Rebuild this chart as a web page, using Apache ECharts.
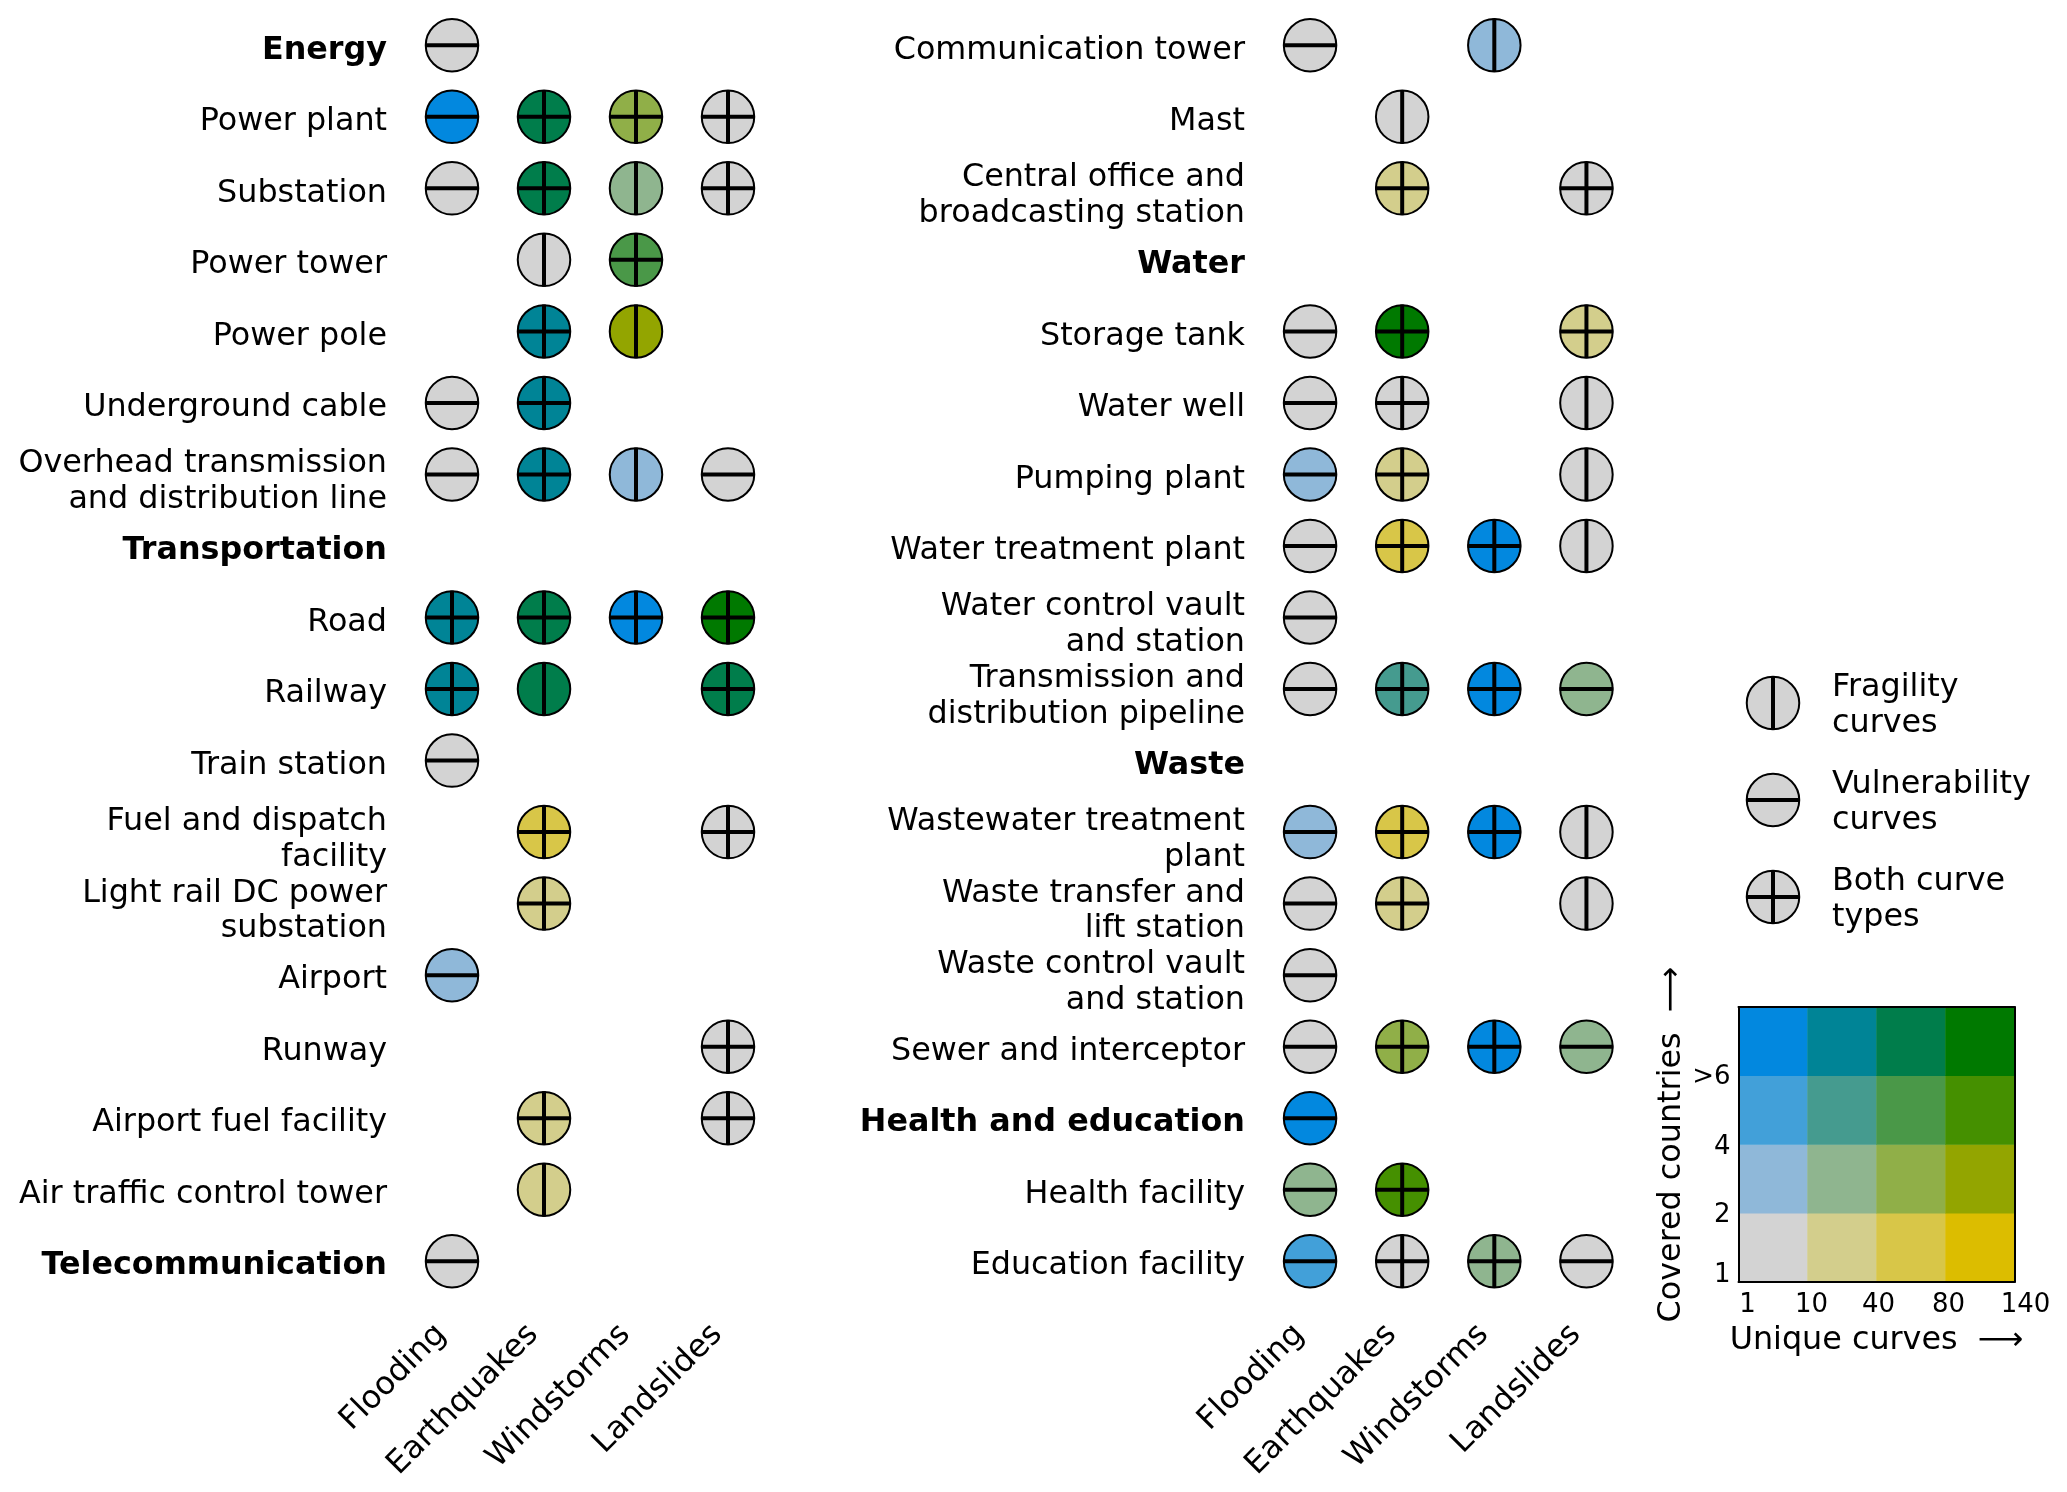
<!DOCTYPE html>
<html><head><meta charset="utf-8">
<style>html,body{margin:0;padding:0;background:#fff}#c{width:2067px;height:1492px}</style>
<script src="https://cdn.jsdelivr.net/npm/echarts@6/dist/echarts.min.js"></script>
</head><body><div id="c"></div>
<script>
const hazards = ['Flooding','Earthquakes','Windstorms','Landslides'];
const leftRows = ['Energy','Power plant','Substation','Power tower','Power pole','Underground cable','Overhead transmission\nand distribution line','Transportation','Road','Railway','Train station','Fuel and dispatch\nfacility','Light rail DC power\nsubstation','Airport','Runway','Airport fuel facility','Air traffic control tower','Telecommunication'];
const rightRows = ['Communication tower','Mast','Central office and\nbroadcasting station','Water','Storage tank','Water well','Pumping plant','Water treatment plant','Water control vault\nand station','Transmission and\ndistribution pipeline','Waste','Wastewater treatment\nplant','Waste transfer and\nlift station','Waste control vault\nand station','Sewer and interceptor','Health and education','Health facility','Education facility'];
const boldRows = ['Energy','Transportation','Telecommunication','Water','Waste','Health and education'];
// [row, hazard, curve type, unique-curves bin, covered-countries bin]
const leftCells = [
 [0,0,'V',0,0],
 [1,0,'V',0,3],[1,1,'B',2,3],[1,2,'B',2,1],[1,3,'B',0,0],
 [2,0,'V',0,0],[2,1,'B',2,3],[2,2,'F',1,1],[2,3,'B',0,0],
 [3,1,'F',0,0],[3,2,'B',2,2],
 [4,1,'B',1,3],[4,2,'F',3,1],
 [5,0,'V',0,0],[5,1,'B',1,3],
 [6,0,'V',0,0],[6,1,'B',1,3],[6,2,'F',0,1],[6,3,'V',0,0],
 [8,0,'B',1,3],[8,1,'B',2,3],[8,2,'B',0,3],[8,3,'B',3,3],
 [9,0,'B',1,3],[9,1,'F',2,3],[9,3,'B',2,3],
 [10,0,'V',0,0],
 [11,1,'B',2,0],[11,3,'B',0,0],
 [12,1,'B',1,0],
 [13,0,'V',0,1],
 [14,3,'B',0,0],
 [15,1,'B',1,0],[15,3,'B',0,0],
 [16,1,'F',1,0],
 [17,0,'V',0,0]
];
const rightCells = [
 [0,0,'V',0,0],[0,2,'F',0,1],
 [1,1,'F',0,0],
 [2,1,'B',1,0],[2,3,'B',0,0],
 [4,0,'V',0,0],[4,1,'B',3,3],[4,3,'B',1,0],
 [5,0,'V',0,0],[5,1,'B',0,0],[5,3,'F',0,0],
 [6,0,'V',0,1],[6,1,'B',1,0],[6,3,'F',0,0],
 [7,0,'V',0,0],[7,1,'B',2,0],[7,2,'B',0,3],[7,3,'F',0,0],
 [8,0,'V',0,0],
 [9,0,'V',0,0],[9,1,'B',1,2],[9,2,'B',0,3],[9,3,'V',1,1],
 [11,0,'V',0,1],[11,1,'B',2,0],[11,2,'B',0,3],[11,3,'F',0,0],
 [12,0,'V',0,0],[12,1,'B',1,0],[12,3,'F',0,0],
 [13,0,'V',0,0],
 [14,0,'V',0,0],[14,1,'B',2,1],[14,2,'B',0,3],[14,3,'V',1,1],
 [15,0,'V',0,3],
 [16,0,'V',1,1],[16,1,'B',3,2],
 [17,0,'V',0,2],[17,1,'B',0,0],[17,2,'B',1,1],[17,3,'V',0,0]
];
const legendRows = ['Fragility\ncurves','Vulnerability\ncurves','Both curve\ntypes'];
const legendTypes = ['F','V','B'];
const curveTicks = ['1','10','40','80','140'];
const countryTicks = ['1','2','4','>6'];
// palette[countries bin][curves bin]
const palette = [
 ['#d3d3d3','#d3ce8c','#d8c648','#dcbd00'],
 ['#8fb8d9','#8fb58f','#90af48','#93a500'],
 ['#42a0d9','#459b8f','#4a9848','#459000'],
 ['#0288df','#008496','#007d4b','#007900']
];

const FS = 31.8, LH = 35.6, D = 52.5, W = 4;
const grids = [], xAxes = [], yAxes = [], series = [];
const twoLines = v => v.split('\n').map(s => '{t|' + s + '}').join('\n');
const rowFmt = v => {
  if (boldRows.includes(v)) return '{b|' + v + '}';
  return v.includes('\n') ? twoLines(v) : v;
};
const rowText = {fontFamily:'DejaVu Sans', fontSize:FS, lineHeight:LH, color:'#000'};

function markers(gridIdx, pts) {
  // pts: [x, y, type, colour]
  const base = {type:'scatter', xAxisIndex:gridIdx, yAxisIndex:gridIdx, silent:true, animation:false};
  series.push(Object.assign({}, base, {
    name:'marker', z:3, symbol:'circle', symbolSize:D,
    data: pts.map(p => ({value:[p[0],p[1]], itemStyle:{color:p[3], borderColor:'#000', borderWidth:2, opacity:1}}))
  }));
  series.push(Object.assign({}, base, {
    name:'vulnerability', z:4, symbol:'rect', symbolSize:[D+1,W], itemStyle:{color:'#000',opacity:1},
    data: pts.filter(p => p[2] !== 'F').map(p => [p[0],p[1]])
  }));
  series.push(Object.assign({}, base, {
    name:'fragility', z:4, symbol:'rect', symbolSize:[W,D+1], itemStyle:{color:'#000',opacity:1},
    data: pts.filter(p => p[2] !== 'V').map(p => [p[0],p[1]])
  }));
}

function panel(rows, cells, left, w) {
  const i = grids.length;
  grids.push({left, top:9.5, width:w, height:1287.5, containLabel:false});
  xAxes.push({gridIndex:i, type:'category', data:hazards, position:'bottom',
    axisLine:{show:false}, axisTick:{show:false}, splitLine:{show:false},
    axisLabel:{interval:0, rotate:45, margin:22, padding:[0,15,0,0], fontFamily:'DejaVu Sans', fontSize:FS, color:'#000'}});
  yAxes.push({gridIndex:i, type:'category', data:rows, inverse:true,
    axisLine:{show:false}, axisTick:{show:false}, splitLine:{show:false},
    axisLabel:{interval:0, margin:19, align:'right', padding:[10,0,0,0], fontFamily:'DejaVu Sans', fontSize:FS, lineHeight:LH, color:'#000',
      formatter:rowFmt, rich:{
        b:Object.assign({fontWeight:'bold'}, rowText),
        t:Object.assign({padding:[5,0,0,0]}, rowText)}}});
  markers(i, cells.map(c => [c[1], c[0], c[2], palette[c[4]][c[3]]]));
}
panel(leftRows, leftCells, 406, 368);
panel(rightRows, rightCells, 1264, 368.5);

// curve-type legend
{
  const i = grids.length;
  grids.push({left:1746, top:654.5, width:54, height:291});
  xAxes.push({gridIndex:i, type:'category', data:[''], axisLine:{show:false}, axisTick:{show:false}, axisLabel:{show:false}});
  yAxes.push({gridIndex:i, type:'category', data:legendRows, inverse:true, position:'right',
    axisLine:{show:false}, axisTick:{show:false},
    axisLabel:{interval:0, margin:32, align:'left', fontFamily:'DejaVu Sans', fontSize:FS, lineHeight:LH, color:'#000',
      formatter:twoLines, rich:{t:Object.assign({padding:[5,0,0,0]}, rowText)}}});
  markers(i, legendTypes.map((t,k) => [0, k, t, palette[0][0]]));
}

// bivariate colour key
{
  const i = grids.length;
  grids.push({left:1738.5, top:1007, width:276, height:275});
  const frame = {onZero:false, lineStyle:{color:'#000', width:2}};
  const labelCommon = {fontFamily:'DejaVu Sans', fontSize:26, color:'#000'};
  // category axes hold the heatmap and draw the top and right frame
  xAxes.push({gridIndex:i, type:'category', data:['0','1','2','3'], position:'top', z:6,
    axisLine:frame, axisTick:{show:false}, axisLabel:{show:false}, splitLine:{show:false}});
  yAxes.push({gridIndex:i, type:'category', data:['0','1','2','3'], position:'right', z:6,
    axisLine:frame, axisTick:{show:false}, axisLabel:{show:false}, splitLine:{show:false}});
  // value axes carry the edge labels, names and bottom and left frame
  xAxes.push({gridIndex:i, type:'value', min:0, max:4, interval:1, position:'bottom', z:6,
    axisLine:frame, axisTick:{show:false}, splitLine:{show:false},
    name:'Unique curves  \u27f6', nameLocation:'middle', nameGap:43,
    nameTextStyle:{fontFamily:'DejaVu Sans', fontSize:FS, color:'#000'},
    axisLabel:Object.assign({margin:10, formatter:v => '{s' + v + '|' + curveTicks[v] + '}',
      rich:{s0:Object.assign({padding:[0,0,0,18]},labelCommon), s1:Object.assign({padding:[0,0,0,8]},labelCommon),
            s2:Object.assign({padding:[0,0,0,4]},labelCommon), s3:Object.assign({padding:[0,0,0,6]},labelCommon),
            s4:Object.assign({padding:[0,0,0,22]},labelCommon)}},labelCommon)});
  yAxes.push({gridIndex:i, type:'value', min:0, max:4, interval:1, position:'left', z:6,
    axisLine:frame, axisTick:{show:false}, splitLine:{show:false},
    name:'Covered countries  \u27f6', nameLocation:'middle', nameGap:51, nameRotate:90,
    nameTextStyle:{fontFamily:'DejaVu Sans', fontSize:FS, color:'#000'},
    axisLabel:Object.assign({margin:8, formatter:v => v < 4 ? '{s' + v + '|' + countryTicks[v] + '}' : '',
      rich:{s0:Object.assign({padding:[0,0,13,0]},labelCommon), s1:Object.assign({padding:[3,0,0,0]},labelCommon),
            s2:Object.assign({padding:[5,0,0,0]},labelCommon), s3:Object.assign({padding:[2,0,0,0]},labelCommon)}},labelCommon)});
  const cells = [];
  palette.forEach((row,k) => row.forEach((col,c) => cells.push({value:[c,k,k*4+c], itemStyle:{color:col}})));
  const xCat = xAxes.length - 2, yCat = yAxes.length - 2;
  series.push({type:'heatmap', xAxisIndex:xCat, yAxisIndex:yCat, silent:true, animation:false, z:2, data:cells, label:{show:false}});
}
const chart = echarts.init(document.getElementById('c'), null, {renderer:'canvas'});
chart.setOption({animation:false, backgroundColor:'#fff', grid:grids, xAxis:xAxes, yAxis:yAxes, series, tooltip:{show:false}, legend:{show:false}});
</script></body></html>
